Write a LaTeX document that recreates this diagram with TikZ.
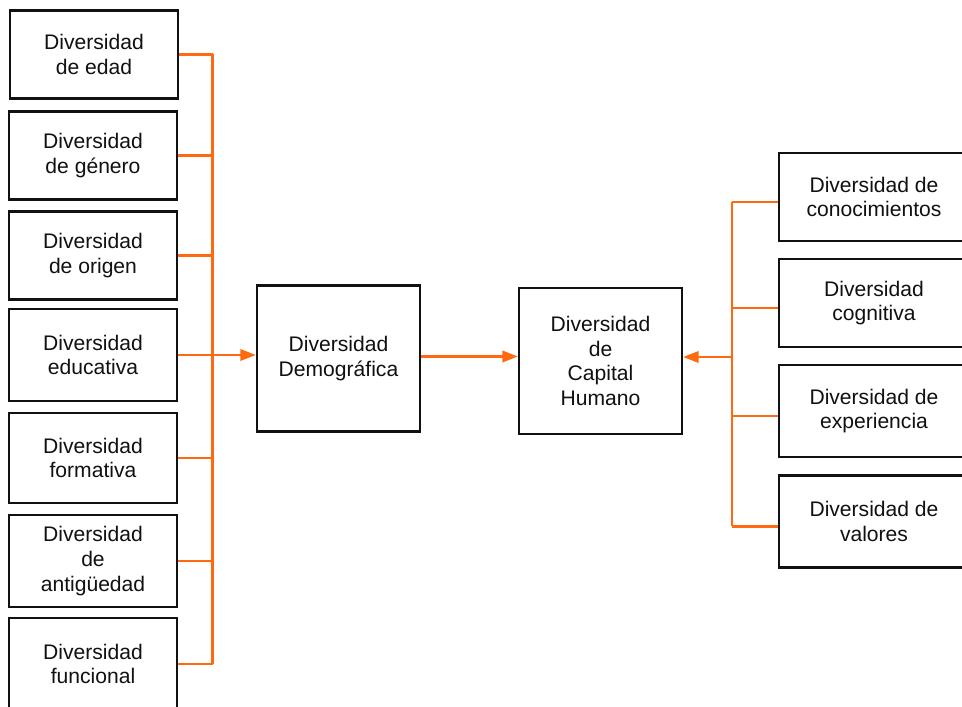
\documentclass[tikz,border=0pt]{standalone}
\usepackage{fontspec}
\setmainfont{Liberation Sans}
\usepackage{xcolor}
\usetikzlibrary{arrows.meta,positioning,calc}
\definecolor{dvInk}{HTML}{111111}
\definecolor{dvOrange}{HTML}{FF6A10}
\tikzset{
  % Factor box (left / right columns)
  fbox/.style={rectangle,draw=dvInk,line width=1.7pt,fill=white,
    minimum width=4.2cm,minimum height=2.2cm,align=center,
    font=\fontsize{15}{17.5}\selectfont,text=dvInk},
  % Central box
  cbox/.style={rectangle,draw=dvInk,line width=1.7pt,fill=white,
    minimum width=4.07cm,minimum height=3.64cm,align=center,
    font=\fontsize{15}{17.5}\selectfont,text=dvInk},
  % Orange links
  link/.style={draw=dvOrange,line width=1.8pt},
  arr/.style={link,-{Triangle[length=11pt,width=8pt]}},
}
\begin{document}
\begin{tikzpicture}[x=0.025cm,y=-0.025cm]
  \clip (0,0) rectangle (962,707);
  \fill[white] (0,0) rectangle (962,707);

  % left column
  \node[fbox] (age)  at (94,54.5)  {Diversidad\\de edad};
  \node[fbox] (gen)  at (93,155.5) {Diversidad\\de género};
  \node[fbox] (orig) at (93,255.5) {Diversidad\\de origen};
  \node[fbox,minimum height=2.3cm] (edu) at (93,355) {Diversidad\\educativa};
  \node[fbox,minimum height=2.25cm] (form) at (93,458) {Diversidad\\formativa};
  \node[fbox,minimum height=2.3cm] (seni) at (93,561) {Diversidad\\de\\antigüedad};
  \node[fbox,minimum height=2.3cm] (func) at (93,664) {Diversidad\\funcional};

  % centre
  \node[cbox] (demo) at (338.5,358.5) {Diversidad\\Demográfica};
  \node[cbox] (cap)  at (600.5,361)   {Diversidad\\de\\Capital\\Humano};

  % right column
  \node[fbox,minimum width=4.75cm] (know) at (874,197) {Diversidad de\\conocimientos};
  \node[fbox,minimum width=4.75cm] (cogn) at (874,303) {Diversidad\\cognitiva};
  \node[fbox,minimum width=4.75cm,minimum height=2.3cm] (expe) at (874,411) {Diversidad de\\experiencia};
  \node[fbox,minimum width=4.75cm,minimum height=2.3cm] (valu) at (874,521.5) {Diversidad de\\valores};

  \coordinate (lbus) at (212.5,0);
  \coordinate (rbus) at (732,0);

  % left bus
  \foreach \n in {age,gen,orig,edu,form,seni,func}
    \draw[link] (\n.east) -- (\n.east -| lbus);
  \draw[link] (age.east -| lbus) -- (func.east -| lbus);
  \draw[arr] (edu.east -| lbus) -- (edu.east -| demo.west);

  \draw[arr] (demo.east) ++(0,-2) -- ($(cap.west|-demo.east)+(0,-2)$);

  % right bus
  \foreach \n in {know,cogn,expe,valu}
    \draw[link] ($(\n.west)+(0,5)$) -- ($(\n.west -| rbus)+(0,5)$);
  \draw[link] ($(know.west -| rbus)+(0,5)$) -- ($(valu.west -| rbus)+(0,5)$);
  \draw[arr] ($(cap.east -| rbus)+(0,-4)$) -- ($(cap.east)+(0,-4)$);
\end{tikzpicture}
\end{document}
